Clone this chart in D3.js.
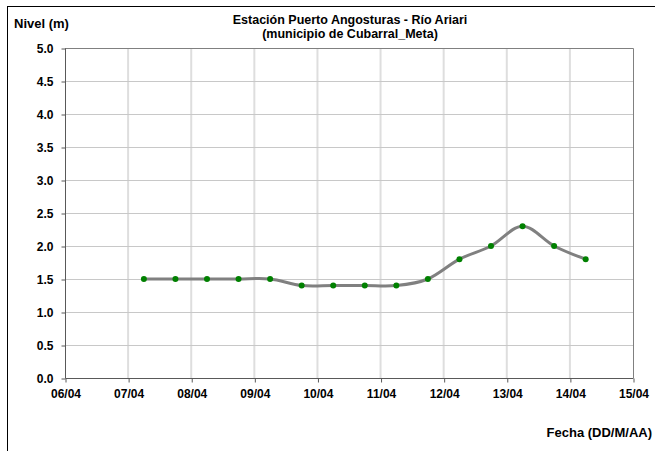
<!DOCTYPE html>
<html>
<head>
<meta charset="utf-8">
<script src="https://cdn.jsdelivr.net/npm/d3@7"></script>
<style>
  html, body { margin: 0; padding: 0; background: #fff; }
  svg { display: block; }
  text { font-family: "Liberation Sans", Arial, sans-serif; font-weight: bold; fill: #000; }
</style>
</head>
<body>
<svg id="chart" width="655" height="451"></svg>
<script>
// ---- data ----
const times = [
  "2018-04-07T06:00", "2018-04-07T18:00", "2018-04-08T06:00", "2018-04-08T18:00",
  "2018-04-09T06:00", "2018-04-09T18:00", "2018-04-10T06:00", "2018-04-10T18:00",
  "2018-04-11T06:00", "2018-04-11T18:00", "2018-04-12T06:00", "2018-04-12T18:00",
  "2018-04-13T06:00", "2018-04-13T18:00", "2018-04-14T06:00"
];
const levels = [1.5, 1.5, 1.5, 1.5, 1.5, 1.4, 1.4, 1.4, 1.4, 1.5, 1.8, 2.0, 2.3, 2.0, 1.8];
const yTicks = [0, 0.5, 1, 1.5, 2, 2.5, 3, 3.5, 4, 4.5, 5];
const xTickDays = ["2018-04-06", "2018-04-07", "2018-04-08", "2018-04-09", "2018-04-10",
                   "2018-04-11", "2018-04-12", "2018-04-13", "2018-04-14", "2018-04-15"];
const titleLines = ["Estación Puerto Angosturas - Río Ariari", "(municipio de Cubarral_Meta)"];
const yTitle = "Nivel (m)";
const xTitle = "Fecha (DD/M/AA)";

const parseT = d3.timeParse("%Y-%m-%dT%H:%M");
const parseD = d3.timeParse("%Y-%m-%d");
const points = times.map((t, i) => ({ t: parseT(t), v: levels[i] }));
const tickDates = xTickDays.map(parseD);

const svg = d3.select("#chart");
const L = 65, R = 633, T = 48, B = 378;

const x = d3.scaleTime().domain([tickDates[0], tickDates[tickDates.length - 1]]).range([L, R]);
const y = d3.scaleLinear().domain([0, 5]).range([B, T]);

// outer frame
svg.append("rect").attr("x", 7.5).attr("y", 6.5).attr("width", 700).attr("height", 500)
  .attr("fill", "#fff").attr("stroke", "#000").attr("stroke-width", 1);

// gridlines
svg.append("g").selectAll("line").data(tickDates.slice(1, -1)).join("line")
  .attr("x1", d => x(d)).attr("x2", d => x(d)).attr("y1", T).attr("y2", B)
  .attr("stroke", "#dedede").attr("stroke-width", 2);
svg.append("g").selectAll("line").data(yTicks.slice(1)).join("line")
  .attr("x1", L).attr("x2", R).attr("y1", d => Math.round(y(d)) + 0.5).attr("y2", d => Math.round(y(d)) + 0.5)
  .attr("stroke", "#c8c8c8").attr("stroke-width", 1);

// plot border (right + top)
svg.append("path").attr("d", `M${L},${T + 0.5}H${R + 0.5}V${B}`)
  .attr("fill", "none").attr("stroke", "#808080").attr("stroke-width", 1);

// axes
const yAxis = d3.axisLeft(y).tickValues(yTicks).tickFormat(d3.format(".1f")).tickSize(4).tickPadding(8);
const gy = svg.append("g").attr("transform", `translate(${L + 0.5},0.5)`).call(yAxis);
const xAxis = d3.axisBottom(x).tickValues(tickDates).tickFormat(d3.timeFormat("%d/%m")).tickSize(4).tickPadding(7);
const gx = svg.append("g").attr("transform", `translate(0.5,${B + 0.5})`).call(xAxis);
[gx, gy].forEach(g => {
  g.select(".domain").attr("stroke", "#595959");
  g.selectAll(".tick line").attr("stroke", "#595959");
  g.selectAll("text").attr("font-size", 12).attr("font-weight", "bold")
    .attr("font-family", "'Liberation Sans', Arial, sans-serif").attr("fill", "#000");
});
gx.select(".domain").attr("d", `M${L},0H${R}`);
gy.select(".domain").attr("d", `M0,${T}V${B}`);

// line
const line = d3.line().x(d => x(d.t)).y(d => y(d.v)).curve(d3.curveCatmullRom.alpha(0));
svg.append("path").datum(points).attr("d", line)
  .attr("fill", "none").attr("stroke", "#808080").attr("stroke-width", 3);

// markers
svg.append("g").selectAll("circle").data(points).join("circle")
  .attr("cx", d => x(d.t)).attr("cy", d => y(d.v)).attr("r", 3)
  .attr("fill", "#008000");

// titles
svg.append("text").attr("x", 350).attr("y", 24).attr("text-anchor", "middle")
  .attr("font-size", 12.5).text(titleLines[0]);
svg.append("text").attr("x", 350).attr("y", 38).attr("text-anchor", "middle")
  .attr("font-size", 12.5).text(titleLines[1]);
svg.append("text").attr("x", 14).attr("y", 28).attr("font-size", 13).text(yTitle);
svg.append("text").attr("x", 652).attr("y", 437).attr("text-anchor", "end")
  .attr("font-size", 13).text(xTitle);
</script>
</body>
</html>
